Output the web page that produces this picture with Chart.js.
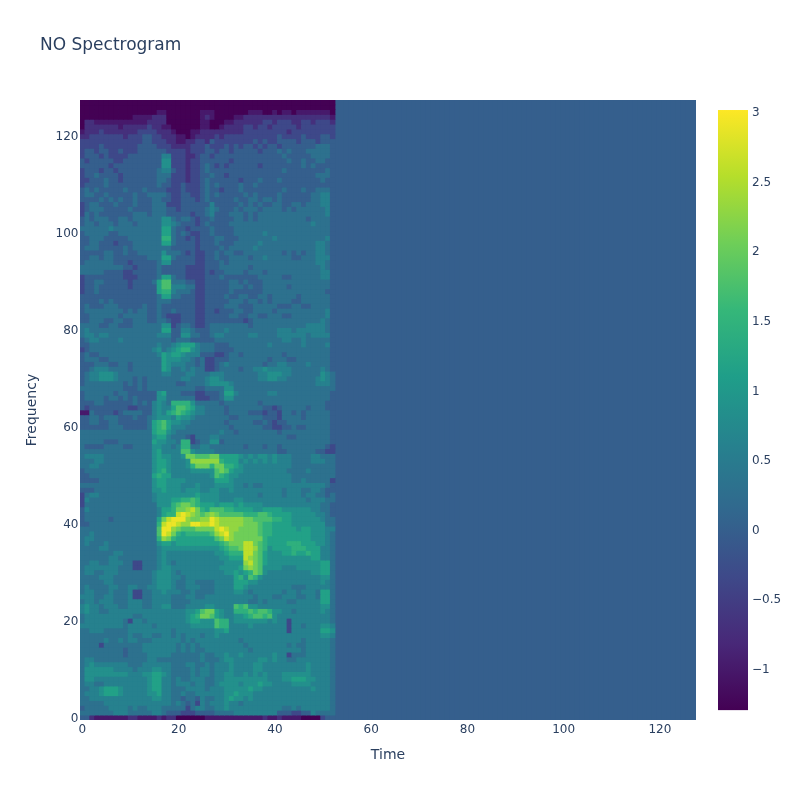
<!DOCTYPE html>
<html>
<head>
<meta charset="utf-8">
<title>NO Spectrogram</title>
<script src="https://cdn.jsdelivr.net/npm/chart.js@4"></script>
<style>
  body{margin:0;background:#fff;}
</style>
</head>
<body>
<canvas id="myChart" width="800" height="800"></canvas>
<script>
var titleText = 'NO Spectrogram';
var xTitle = 'Time';
var yTitle = 'Frequency';
var xTicks = [0,20,40,60,80,100,120];
var yTicks = [0,20,40,60,80,100,120];
var colorbarTicks = [-1,-0.5,0,0.5,1,1.5,2,2.5,3];
var colorMin = -1.3;
var colorMax = 3.012;
var frameCount = 128;
var binCount = 128;
var paddingValue = 0;

// value behind each letter used in the rows below
var levelCodes  = '0123456789abcde';
var levelValues = [-1.3,-1,-0.7,-0.35,0,0.3,0.6,0.85,1.15,1.45,1.75,2.05,2.3,2.6,2.9];

// top row is frequency 127, first letter is time 0
var rows = [
// 127
'0000000000 0000000000 0000000000 0000000000 0000000000 000',
'0000000000 0000000000 0000000000 0000000000 0000000000 000',
'0000000000 0000001100 0000011100 0000011100 1011011111 110',
'0000000000 0111122200 0000012100 0011222222 2222222222 221',
'0221111111 1111222200 0000011000 1122222233 2333223323 332',
'0222222212 2222322110 0000011001 2222332332 3333323333 333',
'1222322222 2233332221 0001122222 2222333333 3332333333 333',
'2233333332 3334433222 1101222232 3333333333 3433334333 443',
// 119
'3333333333 3334433322 1122332433 3333334343 3444434443 444',
'3333433333 3344443332 2223334333 4343443434 4344444445 554',
'3443443343 3344444433 3323334434 4344444344 4545444555 554',
'3444343333 4444444663 3322344344 4444444444 4454444455 554',
'4344444334 4444444773 3323344444 4344444444 4445445445 544',
'4444443444 4444444773 3323345434 3444444344 4444445454 444',
'3444344344 4444445664 3323345444 4444444444 4454444444 454',
'3445444434 4444445553 3323344544 3444444444 4444444445 554',
'3344454434 4444445543 3323345444 4443444544 4544444444 544',
'3444454444 4444445443 3433345454 4445445444 4444444444 444',
// 109
'4545444445 4445444433 3433345443 4445444444 4454445445 554',
'4554454444 4544555543 3443345454 4444545444 4544444455 664',
'4444545454 4544455443 3444345444 4454455455 4544444455 664',
'3455444544 4544455533 3444444644 4445454544 5544554555 664',
'3455544444 5444455544 3444445654 4454555455 5545455555 564',
'3545444444 4555455544 4443445644 4555454555 5555555555 564',
'4545554455 4555555775 4554344544 4455454555 5555555455 554',
'4554555455 5455555776 5444345444 4555555555 5555555565 554',
'5555556555 5555555885 4434444544 4455555555 5555555555 554',
'4555554455 5555555885 4543344544 4455555565 5555555555 554',
// 99
'4455544444 5555555995 4434344455 4445555555 6555555555 564',
'4455444344 4555555885 4444344454 4455555655 5555555556 654',
'4555444445 4555555554 4444344445 4555556555 5555555556 654',
'4444455445 4455555755 5434334454 5544555555 5545454556 654',
'4455455444 4444555885 4444334454 4555545565 5555445556 664',
'4555555444 3444445774 4444334445 4555555555 5555555556 654',
'5555555554 4344445444 4433334445 5555545555 5555555555 654',
'5555544443 3444445444 4433334344 5555455545 5555555555 664',
'3444444443 3344445885 4433334445 4444444555 5544555555 664',
'3445544444 3444458aa5 5544334444 4554544455 5555555555 554',
// 89
'3445444444 3444448aa6 6655334444 4555454455 5554555555 554',
'3445444444 4444448996 5554334444 4544444455 5555555555 544',
'4444444444 4444445885 5444334444 5445544554 5555545555 554',
'4444545444 4444445554 4444334444 4555455454 5555445555 554',
'4544455544 4445445444 4444334444 5554445555 5444554455 554',
'4555555554 5455445445 4444334434 4455445555 4555555555 564',
'4455555545 5555445433 3444334444 4554455445 5544555555 564',
'4455544554 4555445543 3444334444 4444345555 5555555555 654',
'5555445544 4555555773 4554334555 5555545555 5555555666 654',
'5655555555 5555555884 4665444555 6555555555 5666566666 654',
// 79
'5665665555 5555556664 4775544566 5555566555 5666666566 664',
'4566555565 5555555554 5554444455 5555555555 5566556555 554',
'4455555555 5555556556 7888655544 4555555556 5555556555 564',
'3455555555 5555567567 8997655544 4455555555 5555555555 554',
'4544555555 5555556878 8766644433 4554555555 5545555555 554',
'4555445555 5555555877 7665453344 4555555554 5554455555 554',
'4445554455 4555555876 6655453345 6555555545 5665555655 554',
'4456665555 4555555875 5656553345 5554556676 6666555555 654',
'4566777655 5555555665 5566555666 5555555667 7766555555 765',
'4566777655 5454555555 5665556776 5555555667 7665555556 765',
// 69
'4555555554 5454555555 4455556777 7655555555 5555555556 665',
'5555555554 4454555555 5555445555 7755555555 5555555555 555',
'4555555455 4444447855 5444334445 8865555556 6555555555 554',
'4555545545 4544447755 5555333445 7755555555 5555555555 554',
'4445544444 4545467659 9997555554 5555555455 5555555555 544',
'4344444444 3344467668 aa98665555 4555555544 3455555455 544',
'1154444345 5554467689 a987665555 4555544434 4355454555 554',
'4455455544 4544567776 8776555555 5445555544 4355554555 554',
'4455445544 4444589a87 7665555555 4555554454 3445555555 554',
'4444445554 4444589a86 6655555555 5455555544 3344544555 554',
// 59
'5555555555 5555589976 5555555556 5545555555 5455555555 554',
'5555555555 5555578865 5543555665 5555555555 5554455555 554',
'5555544455 5555587766 5993455774 5555555555 5555555555 554',
'5444455554 4555577665 6995566555 5555455545 5455555555 543',
'5555555555 5555578666 6aa7666655 5555555555 5445555554 433',
'5666655555 5555578776 67bbaaabb8 8887676776 7666555566 555',
'5556655555 5555578876 667cccccc9 8886767676 7666555566 655',
'5566555555 5555578876 6679bbb9bb 9987666666 6666555555 555',
'4555555555 5555578976 66677777ab a877666666 6665555655 555',
'4455555555 5555589886 66666667a9 8776666666 6666555555 555',
// 49
'4444555555 5555578877 7766666688 8766666666 6666556555 553',
'5555555555 5555578877 7666766677 7766565566 6666666666 654',
'4445555555 5555577877 7677766776 6766666666 6656665566 544',
'3566555555 5555567777 7777877776 6666666566 6656665665 545',
'3655555555 5555567778 899a977776 6677666666 6666666566 655',
'3555555555 5555557779 abba988878 8878777766 6666666666 554',
'4655555555 5555556889 bbcdb98aaa 9988887788 8877777766 554',
'4555555555 5555556899 dedcbabcba aaaa999aa9 8888777776 654',
'4555554555 5555558bde eecbbccedc ccccbbaaaa 9988777777 655',
'4455555555 5555559dee dcceeddedc ccccbbba99 8888777777 755',
// 39
'5555555555 555555aeec baaabbbbde dccbbbba99 8888878877 766',
'5565555555 555555aedb 9899999acd ecbbbbba99 8888888877 765',
'5665555555 5555559cb9 88888888ab dcbbbbbb98 8888888877 765',
'5655565555 5555557887 8888888889 abbbddba98 8889998887 765',
'5555665555 5555556777 7777777778 9aabddca97 8888999888 665',
'5555555665 5555556766 6666666677 8999ddba87 7788988988 665',
'5555556655 5555556766 6666666667 7888dcba87 7777777788 665',
'5566556665 5335556765 6666666666 7777cdba87 7777777777 885',
'5666666655 5335556776 6666666667 7778bcba77 7766677777 885',
'5665566655 5555567776 5666666666 778789ba76 6666666677 885',
// 29
'5555666555 5555567776 6566666666 66897a9766 6666666666 775',
'5555566555 5555567776 5566555566 6688877666 6666666666 765',
'5655556655 6655667776 5566655566 6688766666 6666555666 665',
'5665556555 6335566766 6556555566 6677656666 6656656665 885',
'6665566555 6335566665 5566556666 6666665666 5566655665 885',
'5665666555 6665566665 5556666666 6666655656 6665566666 885',
'6766566655 6665566775 5566667766 66a9a77666 6666666666 775',
'6766556666 6666666666 66778abb87 66999a9aa9 7766566666 765',
'5666666666 6556666666 66789bba87 667789aa9a 7666666666 665',
'5666666665 3665666666 66788777a9 9677777776 7663666666 665',
// 19
'6666666665 6666656666 66677777a9 9666676666 6663665666 776',
'5566655555 6666666665 6666666677 8666666666 6663666666 887',
'5555555555 6556655665 6566656676 6666666666 6666666666 776',
'5555565565 6655566666 6565666666 6665666666 6666665666 665',
'5555355555 5556666666 5656566666 6666566666 6665655666 665',
'5555555554 5556666666 5656556666 6666656666 6666665666 665',
'5555555554 5555666665 5555565566 7667666666 7663555666 665',
'5665555555 5555665555 5555565556 7766666776 7665566666 665',
'5676666666 5556666665 5566556566 6766667766 6666666766 665',
'5777777666 6566677665 5556566566 6766667766 6666666766 665',
// 9
'5777777777 6667788765 5556566566 7766767676 6677777766 665',
'5776666666 6666788665 6556665566 7777777776 6677888776 665',
'5665566666 6666788665 6665665567 7776777877 6666777766 665',
'5566788876 6666788665 5566665666 7777787766 6666666676 665',
'5666788876 6666778665 5655666666 7787776666 6666666666 665',
'5566666666 6666677665 5455465566 7877676666 6666666666 665',
'5555566666 6666666665 6545365666 7665666666 6666666666 665',
'4555556666 5655666555 5535665566 7666666666 6655656666 665',
'5555555666 5555566544 4333444455 5566666666 6444334465 555',
'4421111111 2211112122 0000001111 1111111121 1211110000 344'
];

var stops = ['#440154','#482878','#3e4989','#31688e','#26828e','#1f9e89','#35b779','#6ece58','#b5de2b','#fde725'];

function hexToRgb(h){
  return [parseInt(h.substr(1,2),16),parseInt(h.substr(3,2),16),parseInt(h.substr(5,2),16)];
}
function viridis(v){
  var t = (v-colorMin)/(colorMax-colorMin);
  t = Math.max(0,Math.min(1,t))*(stops.length-1);
  var i = Math.min(Math.floor(t),stops.length-2);
  var a = hexToRgb(stops[i]), b = hexToRgb(stops[i+1]), f = t-i;
  return 'rgb('+Math.round(a[0]+(b[0]-a[0])*f)+','+Math.round(a[1]+(b[1]-a[1])*f)+','+Math.round(a[2]+(b[2]-a[2])*f)+')';
}

var labels = [];
for(var k=0;k<frameCount;k++){ labels.push(k); }

var datasets = [];
rows.forEach(function(row,idx){
  var cells = row.replace(/ /g,'');
  var freq = binCount-1-idx;
  var data = [], colors = [];
  for(var i=0;i<cells.length;i++){
    data.push([freq-0.5,freq+0.5]);
    colors.push(viridis(levelValues[levelCodes.indexOf(cells[i])]));
  }
  datasets.push({data:data,backgroundColor:colors});
});

// padded frames after the end of the clip, one tall bar each, drawn underneath
var padData = [], padColor = viridis(paddingValue);
for(var c=0;c<frameCount;c++){ padData.push([-0.5,binCount-0.5]); }
datasets.push({data:padData,backgroundColor:padColor,inflateAmount:1});

var moveTitle = {
  id:'moveTitle',
  afterLayout:function(chart){ chart.titleBlock.left = 40; }
};

var colorbar = {
  id:'colorbar',
  afterDraw:function(chart){
    var s = chart.scales.y2, ctx = chart.ctx;
    var top = s.getPixelForValue(colorMax), bottom = s.getPixelForValue(colorMin);
    var g = ctx.createLinearGradient(0,bottom,0,top);
    stops.forEach(function(col,i){ g.addColorStop(i/(stops.length-1),col); });
    ctx.save();
    ctx.fillStyle = g;
    ctx.fillRect(718,top,30,bottom-top);
    ctx.restore();
  }
};

var fontName = '"DejaVu Sans", sans-serif';
var ink = '#2a3f5f';

Chart.defaults.font.family = fontName;
Chart.defaults.color = ink;

var chart = new Chart(document.getElementById('myChart').getContext('2d'),{
  type:'bar',
  data:{labels:labels,datasets:datasets},
  plugins:[moveTitle,colorbar],
  options:{
    responsive:false,
    animation:false,
    events:[],
    layout:{padding:0},
    datasets:{bar:{barPercentage:1,categoryPercentage:1,inflateAmount:0.33,borderWidth:0}},
    plugins:{
      legend:{display:false},
      tooltip:{enabled:false},
      title:{
        display:true,
        text:titleText,
        align:'start',
        color:ink,
        font:{size:17,weight:'normal',family:fontName},
        padding:{top:35.5,bottom:44.1}
      }
    },
    scales:{
      x:{
        type:'category',
        stacked:true,
        grid:{display:false,drawTicks:false},
        border:{display:false},
        ticks:{
          autoSkip:false,maxRotation:0,padding:2.5,font:{size:12},
          callback:function(v){ var l=this.getLabelForValue(v); return xTicks.indexOf(l)>=0 ? String(l) : ''; }
        },
        title:{display:true,text:xTitle,font:{size:14},padding:{top:0,bottom:36.6}},
        afterFit:function(s){ s.height = 80; }
      },
      y:{
        type:'linear',
        min:-0.5,max:binCount-0.5,
        grid:{display:false,drawTicks:false},
        border:{display:false},
        afterBuildTicks:function(s){ s.ticks = yTicks.map(function(v){ return {value:v}; }); },
        ticks:{padding:1.5,labelOffset:1,font:{size:12}},
        title:{display:true,text:yTitle,font:{size:14},padding:{top:24,bottom:0}},
        afterFit:function(s){ s.width = 80; }
      },
      y2:{
        type:'linear',
        position:'right',
        min:-1.371,max:3.084,
        grid:{display:false,drawTicks:false},
        border:{display:false},
        afterBuildTicks:function(s){ s.ticks = colorbarTicks.map(function(v){ return {value:v}; }); },
        ticks:{
          padding:56,labelOffset:1.5,font:{size:12},
          callback:function(v){ return String(v).replace('-','\u2212'); }
        },
        afterFit:function(s){ s.width = 104; }
      }
    }
  }
});
</script>
</body>
</html>
